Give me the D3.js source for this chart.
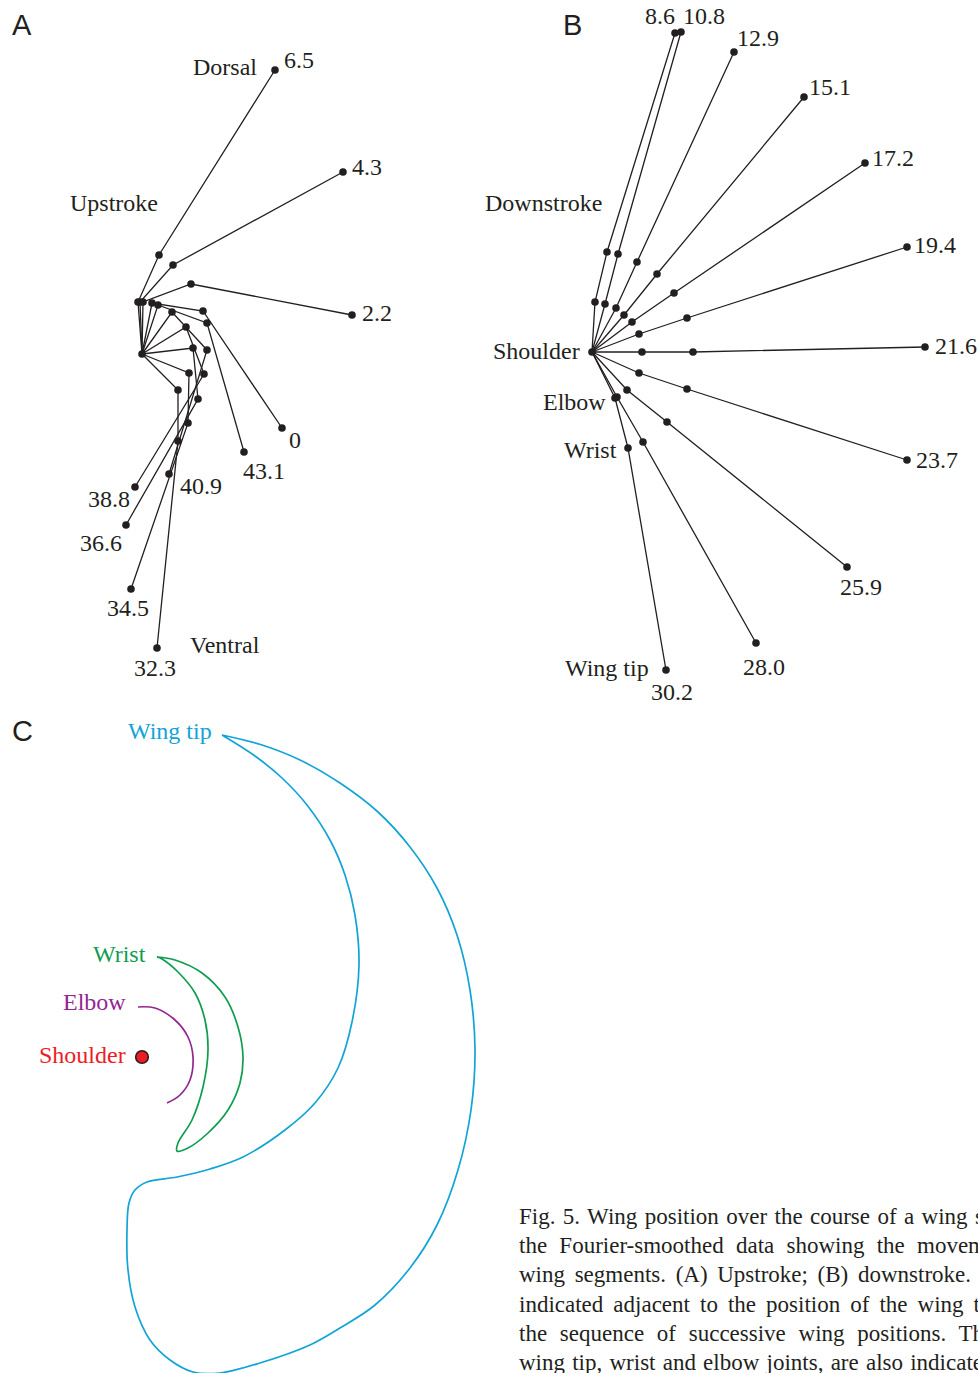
<!DOCTYPE html>
<html>
<head>
<meta charset="utf-8">
<script src="https://cdn.jsdelivr.net/npm/d3@7"></script>
<style>
html, body { margin: 0; padding: 0; background: #fff; overflow: hidden; }
svg { display: block; }
</style>
</head>
<body>
<svg id="fig"></svg>
<script>
// wing positions relative to the shoulder (x to the right, y dorsal), same units for every panel

// A: upstroke
const upTimes = ["6.5", "4.3", "2.2", "0", "43.1", "40.9", "38.8", "36.6", "34.5", "32.3"];
const upElbow = [[-0.4, 5.2], [-0.2, 5.2], [0.1, 5.2], [1.0, 5.1], [1.6, 4.9], [3.0, 4.2], [4.4, 2.7], [5.1, 0.6], [4.7, -1.9], [3.6, -3.6]];
const upWrist = [[1.7, 9.9], [3.1, 8.9], [4.9, 7.0], [6.1, 4.3], [6.5, 3.1], [6.5, 0.4], [6.2, -2.0], [5.6, -4.5], [4.6, -6.9], [3.6, -8.7]];
const upTip = [[13.3, 28.4], [20.1, 18.2], [21.0, 3.9], [14.0, -7.4], [10.2, -9.8], [2.7, -12.0], [-0.7, -13.3], [-1.6, -17.1], [-1.1, -23.5], [1.5, -29.4]];

// B: downstroke
const downTimes = ["8.6", "10.8", "12.9", "15.1", "17.2", "19.4", "21.6", "23.7", "25.9", "28.0", "30.2"];
const downElbow = [[0.3, 5.0], [1.3, 4.8], [2.4, 4.4], [3.2, 3.7], [4.0, 3.0], [4.7, 1.8], [5.0, 0.0], [4.7, -2.1], [3.5, -3.8], [2.5, -4.5], [2.3, -4.6]];
const downWrist = [[1.5, 10.0], [2.6, 9.8], [4.5, 9.0], [6.5, 7.8], [8.2, 5.9], [9.5, 3.4], [10.1, 0.0], [9.5, -3.7], [7.5, -7.0], [5.1, -9.0], [3.6, -9.6]];
const downTip = [[8.3, 31.9], [8.9, 32.0], [14.2, 30.0], [21.2, 25.5], [27.3, 18.9], [31.5, 10.5], [33.3, 0.5], [31.5, -10.8], [25.5, -21.5], [16.4, -29.1], [7.4, -31.8]];

// C: smoothed paths of the joints
const tipPath = [[8.0, 32.2], [12.0, 31.2], [15.8, 29.7], [19.8, 27.4], [23.6, 24.5], [26.8, 21.0], [29.5, 16.9], [31.5, 12.2],
  [32.8, 6.7], [33.3, 0.7], [32.9, -5.3], [31.6, -11.3], [29.5, -16.8], [26.8, -21.1], [23.3, -24.8], [19.8, -27.1],
  [16.8, -28.8], [11.8, -30.6], [7.8, -31.6], [5.1, -31.5], [2.8, -30.3], [0.8, -28.3], [-0.7, -25.0], [-1.4, -21.3],
  [-1.5, -17.3], [-1.3, -14.6], [-0.7, -13.3], [0.5, -12.5], [3.5, -12.0], [6.8, -11.2], [10.1, -10.0], [14.3, -7.3],
  [17.3, -4.6], [19.6, -1.1], [21.0, 3.5], [21.7, 9.2], [21.3, 14.2], [20.3, 18.2], [18.8, 21.7], [16.5, 25.2],
  [14.0, 27.9], [11.3, 30.1], [8.0, 32.2]];
const wristPath = [[1.5, 10.0], [3.3, 9.7], [6.0, 8.4], [8.3, 6.0], [9.6, 3.0], [10.1, 0.0], [9.8, -2.6], [8.6, -5.3],
  [6.6, -7.6], [4.6, -9.1], [3.5, -9.4], [3.6, -8.6], [5.0, -6.3], [6.1, -3.0], [6.6, 0.7], [6.3, 3.7], [5.3, 6.4],
  [3.6, 8.5], [2.0, 9.8], [1.5, 10.0]];
const elbowPath = [[-0.4, 5.0], [1.3, 4.9], [3.3, 3.7], [4.6, 2.0], [5.1, 0.0], [4.8, -2.3], [3.8, -3.8], [2.5, -4.6]];

const caption = [
  "Fig. 5. Wing position over the course of a wing s",
  "the Fourier-smoothed data showing the movem",
  "wing segments. (A) Upstroke; (B) downstroke.",
  "indicated adjacent to the position of the wing t",
  "the sequence of successive wing positions. Th",
  "wing tip, wrist and elbow joints, are also indicate"
];

// label offsets from each tip, pixels
const upLabelOff = [[9, -2.5], [9, 2.5], [10, 5.5], [7, 19.5], [-1, 26.5], [11, 19.5], [-47, 19.5], [-46, 25.5], [-24, 26.5], [-23, 27.5]];
const downLabelOff = [[-30, -9.5], [2, -8.5], [3, -6.5], [5, -2.5], [7, 2.5], [7, 5.5], [10, 6.5], [9, 7.5], [-7, 27.5], [-13, 31.5], [-15, 29.5]];

const width = 978, height = 1373;
const ink = "#231f20";
const serif = "'Liberation Serif', 'Times New Roman', serif";
const sans = "'Liberation Sans', Arial, sans-serif";

const svg = d3.select("#fig").attr("width", width).attr("height", height);

function text(x, y, s, opts) {
  opts = opts || {};
  return svg.append("text")
    .attr("x", x).attr("y", y)
    .attr("font-family", opts.family || serif)
    .attr("font-size", opts.size || 24)
    .attr("fill", opts.color || ink)
    .text(s);
}

// stick figure panel: shoulder -> elbow -> wrist -> tip
function drawSticks(cx, cy, times, elbow, wrist, tip, labelOff) {
  let x = d3.scaleLinear().domain([0, 10]).range([cx, cx + 100]);
  let y = d3.scaleLinear().domain([0, 10]).range([cy, cy - 100]);
  let g = svg.append("g");
  let line = d3.line().x(d => x(d[0])).y(d => y(d[1]));

  let rows = times.map((t, i) => ({ t: t, pts: [[0, 0], elbow[i], wrist[i], tip[i]], off: labelOff[i] }));

  g.selectAll("path.arm")
    .data(rows)
    .enter()
    .append("path")
    .attr("class", "arm")
    .attr("d", d => line(d.pts))
    .attr("fill", "none")
    .attr("stroke", ink)
    .attr("stroke-width", 1.3);

  let joints = [];
  rows.forEach(d => d.pts.slice(1).forEach(p => joints.push(p)));
  joints.push([0, 0]);

  g.selectAll("circle")
    .data(joints)
    .enter()
    .append("circle")
    .attr("cx", d => x(d[0]))
    .attr("cy", d => y(d[1]))
    .attr("r", 3.8)
    .attr("fill", ink);

  g.selectAll("text")
    .data(rows)
    .enter()
    .append("text")
    .attr("x", d => x(d.pts[3][0]) + d.off[0])
    .attr("y", d => y(d.pts[3][1]) + d.off[1])
    .attr("font-family", serif)
    .attr("font-size", 24)
    .attr("fill", ink)
    .text(d => d.t);
}

// panel A
text(12, 35, "A", { family: sans, size: 29 });
drawSticks(142, 354, upTimes, upElbow, upWrist, upTip, upLabelOff);
text(193, 75, "Dorsal");
text(70, 211, "Upstroke");
text(190, 653, "Ventral");

// panel B
text(563, 35, "B", { family: sans, size: 29 });
drawSticks(592, 352, downTimes, downElbow, downWrist, downTip, downLabelOff);
text(485, 211, "Downstroke");
text(493, 359, "Shoulder");
text(543, 410, "Elbow");
text(564, 458, "Wrist");
text(565, 676, "Wing tip");

// panel C
text(12, 741, "C", { family: sans, size: 29 });
let xc = d3.scaleLinear().domain([0, 10]).range([142, 242]);
let yc = d3.scaleLinear().domain([0, 10]).range([1057, 957]);
let curve = d3.line().x(p => xc(p[0])).y(p => yc(p[1])).curve(d3.curveCatmullRom.alpha(0.5));

let paths = [
  { pts: tipPath, color: "#12a4d7" },
  { pts: wristPath, color: "#0f9d4f" },
  { pts: elbowPath, color: "#93278f" }
];
svg.append("g").selectAll("path")
  .data(paths)
  .enter()
  .append("path")
  .attr("d", d => curve(d.pts))
  .attr("fill", "none")
  .attr("stroke", d => d.color)
  .attr("stroke-width", 1.7);

svg.append("circle")
  .attr("cx", xc(0)).attr("cy", yc(0)).attr("r", 6.3)
  .attr("fill", "#ec1c24").attr("stroke", ink).attr("stroke-width", 1.6);

text(128, 739, "Wing tip", { color: "#12a4d7" });
text(93, 962, "Wrist", { color: "#0f9d4f" });
text(63, 1010, "Elbow", { color: "#93278f" });
text(39, 1063, "Shoulder", { color: "#ec1c24" });

// caption, justified lines (right edge runs past the page like the source crop)
const capRight = [984, 986, 971, 980, 984, 983];
caption.forEach((s, i) => {
  let t = text(519, 1224 + i * 29.2, s, { size: 23 });
  let spaces = s.split(" ").length - 1;
  let len = t.node().getComputedTextLength();
  let extra = (capRight[i] - 519 - len) / spaces;
  t.attr("word-spacing", extra);
});
</script>
</body>
</html>
